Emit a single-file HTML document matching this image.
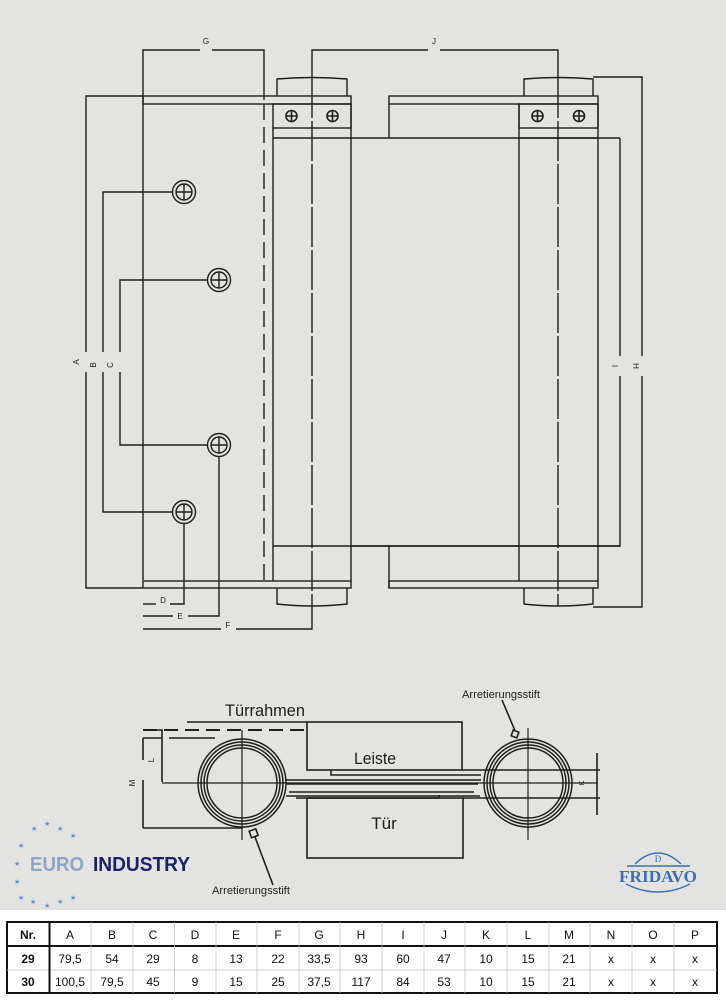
<!DOCTYPE html>
<html><head><meta charset="utf-8"><style>
html,body{margin:0;padding:0;background:#fff}
svg{display:block}
text{font-family:"Liberation Sans",sans-serif}
</style></head><body>
<svg width="726" height="1000" viewBox="0 0 726 1000" xmlns="http://www.w3.org/2000/svg">
<rect x="0" y="0" width="726" height="910" fill="#e3e3e1"/>
<g stroke="#1e1e1e" stroke-width="1.4" fill="none">
<polyline points="143,580 143,50 200,50"/><polyline points="212,50 264,50 264,100"/>
<polyline points="312,78 312,50 428,50"/><polyline points="440,50 558,50 558,78"/>
<path d="M277,96 V79 Q312,76 347,79 V96"/>
<path d="M277,588 V604 Q312,608 347,604 V588"/>
<path d="M524,96 V79 Q558,76 593,79 V96"/>
<path d="M524,588 V604 Q558,608 593,604 V588"/>
<rect x="143" y="96" width="208" height="8"/>
<rect x="389" y="96" width="209" height="8"/>
<rect x="273" y="104" width="78" height="24"/>
<rect x="519" y="104" width="79" height="24"/>
<line x1="273" y1="128" x2="273" y2="581"/><line x1="351" y1="104" x2="351" y2="581"/>
<line x1="519" y1="104" x2="519" y2="581"/><line x1="598" y1="104" x2="598" y2="581"/>
<line x1="273" y1="138" x2="351" y2="138"/><line x1="519" y1="138" x2="598" y2="138"/>
<line x1="389" y1="104" x2="389" y2="138"/>
<line x1="351" y1="138" x2="620" y2="138"/>
<line x1="273" y1="546" x2="620" y2="546"/>
<line x1="389" y1="546" x2="389" y2="588"/>
<rect x="143" y="581" width="208" height="7"/>
<rect x="389" y="581" width="209" height="7"/>
<line x1="264" y1="104" x2="264" y2="580" stroke-dasharray="16,7"/>
<line x1="312" y1="78" x2="312" y2="606" stroke-dasharray="40,3"/>
<line x1="558" y1="78" x2="558" y2="606" stroke-dasharray="40,3"/>
<polyline points="143,96 86,96 86,352"/><polyline points="86,372 86,588 143,588"/>
<polyline points="172,192 103,192 103,352"/><polyline points="103,372 103,512 172,512"/>
<polyline points="208,280 120,280 120,352"/><polyline points="120,372 120,445 208,445"/>
<polyline points="593,77 642,77 642,356"/><polyline points="642,376 642,607 593,607"/>
<polyline points="620,138 620,356"/><polyline points="620,376 620,546 351,546"/>
<polyline points="184,524 184,604 170,604"/><line x1="143" y1="604" x2="156" y2="604"/>
<polyline points="219,456 219,616 188,616"/><line x1="143" y1="616" x2="173" y2="616"/>
<polyline points="312,606 312,629 236,629"/><line x1="143" y1="629" x2="221" y2="629"/>
<g>
<circle cx="184" cy="192" r="11.5"/><circle cx="184" cy="192" r="8"/><path d="M176,192H192M184,184V200"/>
<circle cx="219" cy="280" r="11.5"/><circle cx="219" cy="280" r="8"/><path d="M211,280H227M219,272V288"/>
<circle cx="219" cy="445" r="11.5"/><circle cx="219" cy="445" r="8"/><path d="M211,445H227M219,437V453"/>
<circle cx="184" cy="512" r="11.5"/><circle cx="184" cy="512" r="8"/><path d="M176,512H192M184,504V520"/>
</g>
<g stroke-width="1.6">
<circle cx="291.5" cy="116" r="5.5"/><path d="M286,116H297M291.5,110.5V121.5"/>
<circle cx="332.5" cy="116" r="5.5"/><path d="M327,116H338M332.5,110.5V121.5"/>
<circle cx="537.5" cy="116" r="5.5"/><path d="M532,116H543M537.5,110.5V121.5"/>
<circle cx="579" cy="116" r="5.5"/><path d="M573.5,116H584.5M579,110.5V121.5"/>
</g>
</g>
<g font-size="8" fill="#222" text-anchor="middle">
<text x="206" y="44">G</text><text x="434" y="44">J</text>
<text x="163" y="603">D</text><text x="180" y="619">E</text><text x="228" y="628">F</text>
<text transform="translate(79,362) rotate(-90)">A</text>
<text transform="translate(96,365) rotate(-90)">B</text>
<text transform="translate(113,365) rotate(-90)">C</text>
<text transform="translate(612,366) rotate(90)">I</text>
<text transform="translate(633,366) rotate(90)">H</text>
</g>
<g stroke="#1e1e1e" stroke-width="1.6" fill="none">
<line x1="187" y1="722" x2="307" y2="722"/>
<rect x="307" y="722" width="155" height="48"/>
<rect x="307" y="798" width="156" height="60"/>
<line x1="143" y1="730" x2="306" y2="730" stroke-dasharray="14,7" stroke-width="2"/>
<polyline points="143,730 162,730 162,782"/>
<polyline points="143,738 162,738"/><line x1="169" y1="738" x2="215" y2="738"/>
<line x1="143" y1="738" x2="143" y2="760"/>
<line x1="143" y1="780" x2="143" y2="828"/>
<line x1="143" y1="828" x2="243" y2="828"/>
<line x1="162" y1="783" x2="597" y2="783" stroke-width="1.3"/>
<g stroke-width="1.5">
<circle cx="242" cy="783" r="44"/><circle cx="242" cy="783" r="41"/><circle cx="242" cy="783" r="38"/><circle cx="242" cy="783" r="35"/>
<circle cx="528" cy="783" r="44"/><circle cx="528" cy="783" r="41"/><circle cx="528" cy="783" r="38"/><circle cx="528" cy="783" r="35"/>
</g>
<line x1="242" y1="730" x2="242" y2="840" stroke-width="1.2"/>
<line x1="528" y1="728" x2="528" y2="840" stroke-width="1.2"/>
<path d="M285,780H481M287,784H478M289,792H474M286,796H480"/>
<path d="M331,770V775H481"/><path d="M296,798H439V795"/>
<line x1="462" y1="770" x2="600" y2="770"/>
<line x1="463" y1="798" x2="600" y2="798"/>
<line x1="597" y1="753" x2="597" y2="815"/>
<line x1="502" y1="700" x2="516" y2="733"/>
<rect x="512" y="731" width="6" height="6" transform="rotate(20 515 734)" fill="#e3e3e1"/>
<line x1="273" y1="885" x2="255" y2="837"/>
<rect x="250" y="830" width="7" height="7" transform="rotate(-20 253 833)" fill="#e3e3e1"/>
</g>
<g fill="#1e1e1e">
<text x="265" y="716" font-size="17" text-anchor="middle" textLength="80" lengthAdjust="spacingAndGlyphs">Türrahmen</text>
<text x="375" y="764" font-size="17" text-anchor="middle" textLength="42" lengthAdjust="spacingAndGlyphs">Leiste</text>
<text x="384" y="829" font-size="17" text-anchor="middle">Tür</text>
<text x="501" y="698" font-size="11" text-anchor="middle" textLength="78" lengthAdjust="spacingAndGlyphs">Arretierungsstift</text>
<text x="251" y="894" font-size="11" text-anchor="middle" textLength="78" lengthAdjust="spacingAndGlyphs">Arretierungsstift</text>
<text x="150" y="764" font-size="8" text-anchor="middle" transform="rotate(-90 150 760)">L</text>
<text transform="translate(135,783) rotate(-90)" font-size="8" text-anchor="middle">M</text>
<text transform="translate(584,783) rotate(-90)" font-size="7" text-anchor="middle">K</text>
</g>
<g fill="#6f8fbd" font-size="7">
<text x="31" y="831">★</text><text x="44" y="826">★</text><text x="57" y="831">★</text><text x="70" y="838">★</text>
<text x="18" y="848">★</text><text x="14" y="866">★</text><text x="14" y="884">★</text><text x="18" y="900">★</text>
<text x="30" y="904">★</text><text x="44" y="908">★</text><text x="57" y="904">★</text><text x="70" y="900">★</text>
</g>
<text x="30" y="871" font-size="20" fill="#8ea4c8" font-weight="bold" textLength="54" lengthAdjust="spacingAndGlyphs">EURO</text>
<text x="93" y="871" font-size="20" fill="#1b2266" font-weight="bold" textLength="97" lengthAdjust="spacingAndGlyphs">INDUSTRY</text>
<g stroke="#3f6eb3" fill="none" stroke-width="1.5">
<path d="M635,864 Q658,842 681,864"/><path d="M627,866H690"/>
<path d="M626,884 Q658,900 690,884"/>
</g>
<text x="658" y="862" font-size="9" fill="#3f6eb3" text-anchor="middle" style="font-family:'Liberation Serif',serif">D</text>
<text x="658" y="882" font-size="17" fill="#3f6eb3" text-anchor="middle" font-weight="bold" style="font-family:'Liberation Serif',serif" textLength="78" lengthAdjust="spacingAndGlyphs">FRIDAVO</text>
<g stroke="#111" fill="none">
<rect x="7" y="922" width="710" height="71" stroke-width="2"/>
<line x1="7" y1="946" x2="717" y2="946" stroke-width="2"/>
<line x1="7" y1="970" x2="717" y2="970" stroke-width="0.7" stroke="#bbb"/>
<line x1="49.5" y1="922" x2="49.5" y2="993" stroke-width="2"/>
<g stroke-width="0.7" stroke="#bbb">
<line x1="91" y1="922" x2="91" y2="993"/><line x1="133" y1="922" x2="133" y2="993"/><line x1="174.5" y1="922" x2="174.5" y2="993"/><line x1="216" y1="922" x2="216" y2="993"/><line x1="257" y1="922" x2="257" y2="993"/><line x1="299" y1="922" x2="299" y2="993"/><line x1="340" y1="922" x2="340" y2="993"/><line x1="382" y1="922" x2="382" y2="993"/><line x1="424" y1="922" x2="424" y2="993"/><line x1="465" y1="922" x2="465" y2="993"/><line x1="507" y1="922" x2="507" y2="993"/><line x1="549" y1="922" x2="549" y2="993"/><line x1="590" y1="922" x2="590" y2="993"/><line x1="632" y1="922" x2="632" y2="993"/><line x1="674" y1="922" x2="674" y2="993"/>
</g>
</g>
<g font-size="12" fill="#111" text-anchor="middle">
<text x="28" y="939" font-weight="bold">Nr.</text><text x="28" y="963" font-weight="bold">29</text><text x="28" y="986" font-weight="bold">30</text>
<text x="70" y="939">A</text><text x="112" y="939">B</text><text x="153" y="939">C</text><text x="195" y="939">D</text><text x="236" y="939">E</text><text x="278" y="939">F</text><text x="319" y="939">G</text><text x="361" y="939">H</text><text x="403" y="939">I</text><text x="444" y="939">J</text><text x="486" y="939">K</text><text x="528" y="939">L</text><text x="569" y="939">M</text><text x="611" y="939">N</text><text x="653" y="939">O</text><text x="695" y="939">P</text>
<text x="70" y="963">79,5</text><text x="112" y="963">54</text><text x="153" y="963">29</text><text x="195" y="963">8</text><text x="236" y="963">13</text><text x="278" y="963">22</text><text x="319" y="963">33,5</text><text x="361" y="963">93</text><text x="403" y="963">60</text><text x="444" y="963">47</text><text x="486" y="963">10</text><text x="528" y="963">15</text><text x="569" y="963">21</text><text x="611" y="963">x</text><text x="653" y="963">x</text><text x="695" y="963">x</text>
<text x="70" y="986">100,5</text><text x="112" y="986">79,5</text><text x="153" y="986">45</text><text x="195" y="986">9</text><text x="236" y="986">15</text><text x="278" y="986">25</text><text x="319" y="986">37,5</text><text x="361" y="986">117</text><text x="403" y="986">84</text><text x="444" y="986">53</text><text x="486" y="986">10</text><text x="528" y="986">15</text><text x="569" y="986">21</text><text x="611" y="986">x</text><text x="653" y="986">x</text><text x="695" y="986">x</text>
</g>
</svg>
</body></html>
